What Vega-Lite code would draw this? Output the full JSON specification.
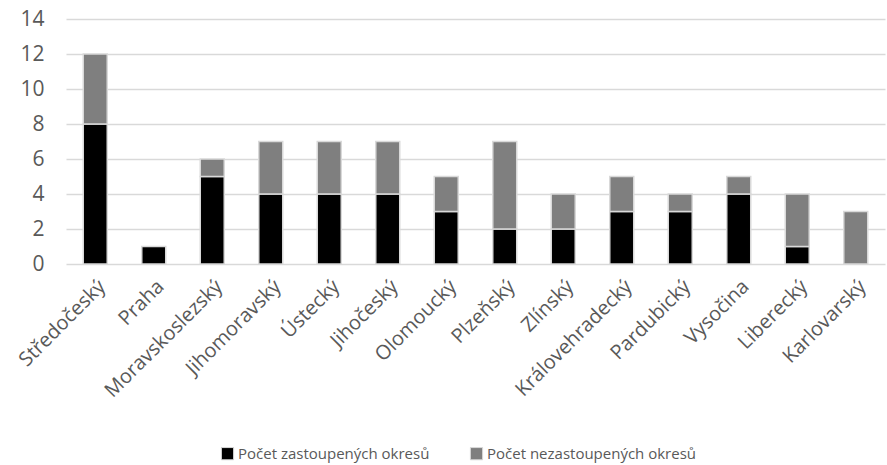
{
  "$schema": "https://vega.github.io/schema/vega-lite/v6.json",
  "width": 819,
  "height": 245,
  "autosize": {"type": "none"},
  "padding": {"left": 66, "top": 19, "right": 2, "bottom": 201},
  "background": "white",
  "config": {
    "view": {"stroke": null},
    "font": "Open Sans"
  },
  "data": {
    "values": [
      {"kraj": "Středočeský", "serie": "Počet zastoupených okresů", "poradi": 1, "pocet": 8},
      {"kraj": "Středočeský", "serie": "Počet nezastoupených okresů", "poradi": 2, "pocet": 4},
      {"kraj": "Praha", "serie": "Počet zastoupených okresů", "poradi": 1, "pocet": 1},
      {"kraj": "Praha", "serie": "Počet nezastoupených okresů", "poradi": 2, "pocet": 0},
      {"kraj": "Moravskoslezský", "serie": "Počet zastoupených okresů", "poradi": 1, "pocet": 5},
      {"kraj": "Moravskoslezský", "serie": "Počet nezastoupených okresů", "poradi": 2, "pocet": 1},
      {"kraj": "Jihomoravský", "serie": "Počet zastoupených okresů", "poradi": 1, "pocet": 4},
      {"kraj": "Jihomoravský", "serie": "Počet nezastoupených okresů", "poradi": 2, "pocet": 3},
      {"kraj": "Ústecký", "serie": "Počet zastoupených okresů", "poradi": 1, "pocet": 4},
      {"kraj": "Ústecký", "serie": "Počet nezastoupených okresů", "poradi": 2, "pocet": 3},
      {"kraj": "Jihočeský", "serie": "Počet zastoupených okresů", "poradi": 1, "pocet": 4},
      {"kraj": "Jihočeský", "serie": "Počet nezastoupených okresů", "poradi": 2, "pocet": 3},
      {"kraj": "Olomoucký", "serie": "Počet zastoupených okresů", "poradi": 1, "pocet": 3},
      {"kraj": "Olomoucký", "serie": "Počet nezastoupených okresů", "poradi": 2, "pocet": 2},
      {"kraj": "Plzeňský", "serie": "Počet zastoupených okresů", "poradi": 1, "pocet": 2},
      {"kraj": "Plzeňský", "serie": "Počet nezastoupených okresů", "poradi": 2, "pocet": 5},
      {"kraj": "Zlínský", "serie": "Počet zastoupených okresů", "poradi": 1, "pocet": 2},
      {"kraj": "Zlínský", "serie": "Počet nezastoupených okresů", "poradi": 2, "pocet": 2},
      {"kraj": "Královehradecký", "serie": "Počet zastoupených okresů", "poradi": 1, "pocet": 3},
      {"kraj": "Královehradecký", "serie": "Počet nezastoupených okresů", "poradi": 2, "pocet": 2},
      {"kraj": "Pardubický", "serie": "Počet zastoupených okresů", "poradi": 1, "pocet": 3},
      {"kraj": "Pardubický", "serie": "Počet nezastoupených okresů", "poradi": 2, "pocet": 1},
      {"kraj": "Vysočina", "serie": "Počet zastoupených okresů", "poradi": 1, "pocet": 4},
      {"kraj": "Vysočina", "serie": "Počet nezastoupených okresů", "poradi": 2, "pocet": 1},
      {"kraj": "Liberecký", "serie": "Počet zastoupených okresů", "poradi": 1, "pocet": 1},
      {"kraj": "Liberecký", "serie": "Počet nezastoupených okresů", "poradi": 2, "pocet": 3},
      {"kraj": "Karlovarský", "serie": "Počet zastoupených okresů", "poradi": 1, "pocet": 0},
      {"kraj": "Karlovarský", "serie": "Počet nezastoupených okresů", "poradi": 2, "pocet": 3}
    ]
  },
  "transform": [{"filter": "datum.pocet > 0"}],
  "mark": {"type": "bar", "stroke": "#d9d9d9", "strokeWidth": 1.5},
  "encoding": {
    "x": {
      "field": "kraj",
      "type": "nominal",
      "sort": null,
      "scale": {"paddingInner": 0.59, "paddingOuter": 0.295},
      "axis": {
        "title": null,
        "labelAngle": -45,
        "labelFont": "Open Sans",
        "labelFontSize": 20,
        "labelColor": "#595959",
        "labelLimit": 0,
        "ticks": false,
        "domain": false,
        "labelPadding": 12,
        "labelOverlap": false
      }
    },
    "y": {
      "field": "pocet",
      "type": "quantitative",
      "stack": "zero",
      "scale": {"domain": [0, 14]},
      "axis": {
        "title": null,
        "values": [0, 2, 4, 6, 8, 10, 12, 14],
        "labelFont": "Open Sans",
        "labelFontSize": 21,
        "labelColor": "#595959",
        "domain": false,
        "ticks": false,
        "gridColor": "#d9d9d9",
        "gridWidth": 1.5,
        "labelPadding": 22
      }
    },
    "color": {
      "field": "serie",
      "type": "nominal",
      "sort": ["Počet zastoupených okresů", "Počet nezastoupených okresů"],
      "scale": {
        "domain": ["Počet zastoupených okresů", "Počet nezastoupených okresů"],
        "range": ["#000000", "#7f7f7f"]
      },
      "legend": {
        "title": null,
        "orient": "none",
        "direction": "horizontal",
        "legendX": 154,
        "legendY": 427,
        "labelFont": "Open Sans",
        "labelFontSize": 15,
        "labelColor": "#595959",
        "labelLimit": 0,
        "symbolType": "square",
        "symbolSize": 150,
        "symbolStrokeColor": "#d9d9d9",
        "symbolStrokeWidth": 1,
        "labelOffset": 3,
        "columnPadding": 38
      }
    },
    "order": {"field": "poradi", "type": "quantitative"}
  }
}
